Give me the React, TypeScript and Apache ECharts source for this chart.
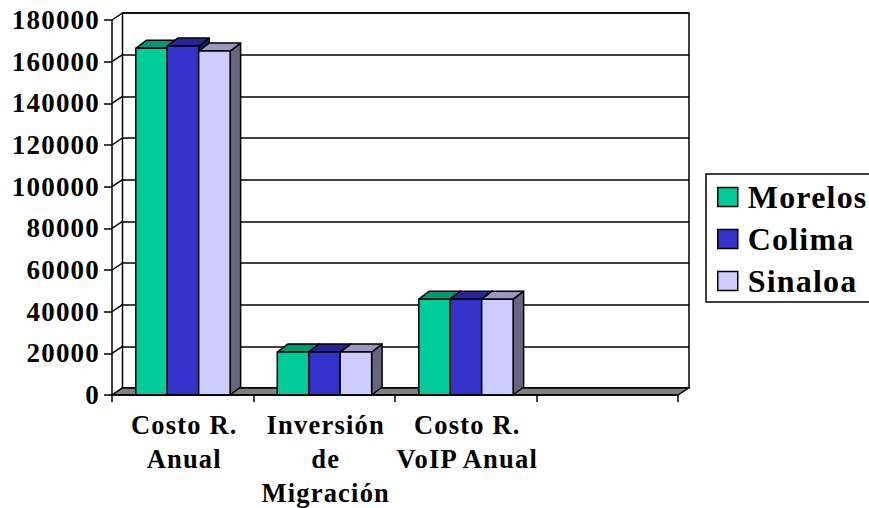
import React, { useEffect, useRef } from "react";
import * as echarts from "echarts";

const categories = ["Costo R.\nAnual", "Inversión\nde\nMigración", "Costo R.\nVoIP Anual", ""];
const seriesNames = ["Morelos", "Colima", "Sinaloa"];
const morelos = [166400, 20600, 46000];
const colima = [167500, 20600, 46000];
const sinaloa = [165100, 20600, 46000];
const yTicks = [0, 20000, 40000, 60000, 80000, 100000, 120000, 140000, 160000, 180000];

const FRONT = "#00CC99", FRONT_TOP = "#009973", FRONT_SIDE = "#006B50";
const BLUE = "#3333CC", BLUE_TOP = "#262699", BLUE_SIDE = "#1A1A6B";
const LILAC = "#CCCCFF", LILAC_TOP = "#9999BF", LILAC_SIDE = "#666680";
const palette = [
  [FRONT, FRONT_TOP, FRONT_SIDE],
  [BLUE, BLUE_TOP, BLUE_SIDE],
  [LILAC, LILAC_TOP, LILAC_SIDE],
];
const FONT = "'Liberation Serif', 'Times New Roman', serif";
const DX = 10.5, WALL_DY = 7, BAR_DY = 8;
const LW = 1.5;

function barSeries(name: string, values: number[], idx: number) {
  return {
    type: "custom",
    name,
    xAxisIndex: 0,
    yAxisIndex: 0,
    z: 3,
    clip: false,
    itemStyle: { color: palette[idx][0] },
    encode: { x: 0, y: 1 },
    data: values.map((v, i) => [i, v]),
    renderItem: (_p: any, api: any) => {
      const c = api.coord([api.value(0), api.value(1)]);
      const base = api.coord([api.value(0), 0]);
      const w = api.size([1, 0])[0] / 4.5;
      const x0 = c[0] + (idx - 1.5) * w + 0.2;
      const x1 = x0 + w;
      const yt = c[1], yb = base[1];
      const stroke = { stroke: "#000", lineWidth: LW, lineJoin: "round" };
      return {
        type: "group",
        children: [
          { type: "polygon", shape: { points: [[x1, yb], [x1 + DX, yb - BAR_DY], [x1 + DX, yt - BAR_DY], [x1, yt]] }, style: { fill: palette[idx][2], ...stroke } },
          { type: "polygon", shape: { points: [[x0, yt], [x0 + DX, yt - BAR_DY], [x1 + DX, yt - BAR_DY], [x1, yt]] }, style: { fill: palette[idx][1], ...stroke } },
          { type: "rect", shape: { x: x0, y: yt, width: w, height: yb - yt }, style: { fill: palette[idx][0], ...stroke } },
        ],
      };
    },
  };
}

export default function App() {
  const ref = useRef<HTMLDivElement>(null);
  useEffect(() => {
    const chart = echarts.init(ref.current!, undefined, { renderer: "svg" });
    const option: any = {
      animation: false,
      backgroundColor: "#fff",
      grid: [
        { left: 112, right: 191, top: 20, bottom: 113, outerBoundsMode: "none", containLabel: false },
        { left: 122.5, right: 180, top: 13, bottom: 120, outerBoundsMode: "none", containLabel: false, show: true, borderColor: "#000", borderWidth: LW, backgroundColor: "#fff" },
      ],
      xAxis: [
        {
          type: "category",
          gridIndex: 0,
          data: categories,
          z: 5,
          axisLine: { lineStyle: { color: "#000", width: LW } },
          axisTick: { show: true, length: 7, interval: 0, lineStyle: { color: "#000", width: LW } },
          axisLabel: { interval: 0, color: "#000", fontFamily: FONT, fontWeight: "bold", fontSize: 26.5, lineHeight: 34, margin: 13, padding: [0, 0, 0, 3] },
        },
        { type: "category", gridIndex: 1, data: categories, show: false },
      ],
      yAxis: [
        {
          type: "value",
          gridIndex: 0,
          min: 0,
          max: 180000,
          interval: 20000,
          z: 5,
          splitLine: { show: false },
          axisLine: { show: true, lineStyle: { color: "#000", width: LW } },
          axisTick: { show: true, length: 8, lineStyle: { color: "#000", width: LW } },
          axisLabel: { color: "#000", fontFamily: FONT, fontWeight: "bold", fontSize: 27, margin: 12, formatter: (v: number) => String(v) },
        },
        {
          type: "value",
          gridIndex: 1,
          min: 0,
          max: 180000,
          interval: 20000,
          axisLine: { show: false },
          axisTick: { show: false },
          axisLabel: { show: false },
          splitLine: { show: true, lineStyle: { color: "#000", width: LW } },
        },
      ],
      legend: {
        left: 706,
        top: 174,
        orient: "vertical",
        icon: "rect",
        itemWidth: 20,
        itemHeight: 19,
        itemGap: 10,
        padding: [7, 24, 5, 11],
        borderColor: "#000",
        borderWidth: LW,
        backgroundColor: "#fff",
        textStyle: { color: "#000", fontFamily: FONT, fontWeight: "bold", fontSize: 32, padding: [0, 0, 0, 5] },
        data: seriesNames.map((n, i) => ({ name: n, itemStyle: { color: palette[i][0], borderColor: "#000", borderWidth: LW } })),
      },
      series: [
        {
          type: "custom",
          xAxisIndex: 0,
          yAxisIndex: 0,
          z: 1,
          clip: false,
          silent: true,
          data: yTicks.map((t) => [0, t]),
          encode: { y: 1 },
          renderItem: (p: any, api: any) => {
            const cs = p.coordSys;
            const y = api.coord([0, api.value(1)])[1];
            const left = cs.x;
            const children: any[] = [
              { type: "line", shape: { x1: left, y1: y, x2: left + DX, y2: y - WALL_DY }, style: { stroke: "#000", lineWidth: LW } },
            ];
            if (api.value(1) === 0) {
              const r = cs.x + cs.width;
              children.push({
                type: "polygon",
                shape: { points: [[left, y], [left + DX, y - WALL_DY], [r + DX, y - WALL_DY], [r, y]] },
                style: { fill: "#808080", stroke: "#000", lineWidth: LW },
              });
            }
            return { type: "group", children };
          },
        },
        barSeries(seriesNames[0], morelos, 0),
        barSeries(seriesNames[1], colima, 1),
        barSeries(seriesNames[2], sinaloa, 2),
      ],
    };
    chart.setOption(option);
    return () => chart.dispose();
  }, []);
  return (
    <div
      ref={ref}
      style={{ position: "absolute", left: 0, top: 0, width: 869, height: 508, letterSpacing: "1.2px" }}
    />
  );
}
